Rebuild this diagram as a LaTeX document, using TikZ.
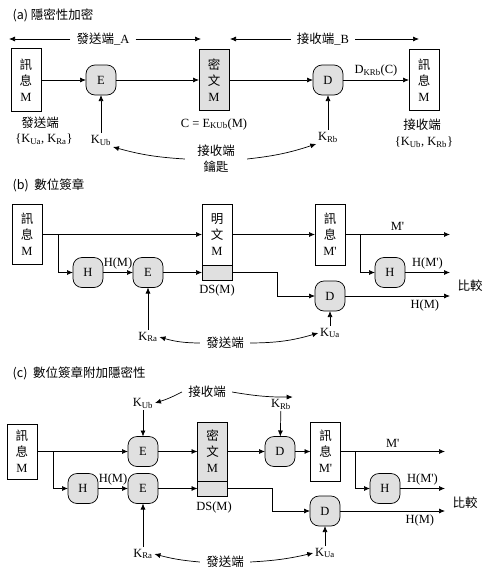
\documentclass[tikz,border=0pt]{standalone}
\usepackage{fontspec}
\setmainfont{Liberation Serif}
\newfontfamily\cjk{Noto Sans CJK TC}
\newcommand{\zh}[1]{{\cjk #1}}
\usetikzlibrary{arrows.meta}
\definecolor{boxgray}{gray}{0.88}

\begin{document}
\begin{tikzpicture}[x=1pt,y=-1pt,
		font=\fontsize{12.5}{16}\selectfont, line width=.7pt,
		>={Latex[length=6pt,width=5pt]},
		msg/.style={draw,outer sep=0,inner sep=0,minimum width=30,align=center},
		op/.style={draw,fill=boxgray,outer sep=0,inner sep=0,rounded corners=9,minimum size=30},
		lbl/.style={inner sep=1.5},
		side/.style={inner sep=6,align=center}]
		\useasboundingbox (0,0) rectangle (495,576);
		% (a)
		\node [anchor=west] (ta) at (9,15) {\zh{(a) 隱密性加密}};
		\node [side] (sa) at (103,39) {\zh{發送端}\_A};
		\node [side] (ra) at (323,39) {\zh{接收端}\_B};
		\coordinate (sa1) at (9,39); \coordinate (sa2) at (201,39);
		\coordinate (ra1) at (230,39); \coordinate (ra2) at (419,39);
		\draw[->] (sa) -- (sa1); \draw[->] (sa) -- (sa2);
		\draw[->] (ra) -- (ra1); \draw[->] (ra) -- (ra2);
		\node [msg,minimum height=63] (ma) at (26,80) {\zh{訊}\\\zh{息}\\M};
		\node [op] (ea) at (101,80) {E};
		\node [msg,fill=boxgray,minimum height=61] (ca) at (214,80) {\zh{密}\\\zh{文}\\M};
		\node [op] (da) at (328,80) {D};
		\node [msg,minimum height=61] (mb) at (424,80) {\zh{訊}\\\zh{息}\\M};
		\node [lbl] (sda) at (40,123) {\zh{發送端}};
		\node [lbl] (ksa) at (44,139) {\{K\textsubscript{Ua}, K\textsubscript{Ra}\}};
		\node [lbl] (kua) at (101,140) {K\textsubscript{Ub}};
		\node [lbl] (cla) at (214,124) {C = E\textsubscript{KUb}(M)};
		\node [side,inner sep=12] (rka) at (216,159) {\zh{接收端}\\\zh{鑰匙}};
		\node [lbl] (kra) at (328,137) {K\textsubscript{Rb}};
		\node [lbl] (rda) at (422,125) {\zh{接收端}};
		\node [lbl] (kka) at (424,142) {\{K\textsubscript{Ub}, K\textsubscript{Rb}\}};
		\draw[->] (ma) -- (ea);
		\draw[->] (ea) -- (ca);
		\draw[->] (ca) -- (da);
		\draw[->] (da) -- node[above] {D\textsubscript{KRb}(C)} (mb);
		\draw[->] (kua) -- (ea);
		\draw[->] (kra) -- (da);
		\draw[->] (rka.west) to[bend left=6] (kua.south east);
		\draw[->] (rka.east) to[bend right=6] (kra.south west);
		% (b)
		\node [anchor=west] (tb) at (9,185) {\zh{(b)\ \ 數位簽章}};
		\node [msg,minimum height=60] (mab) at (27,234.5) {\zh{訊}\\\zh{息}\\M};
		\node [op] (hb) at (88,272.5) {H};
		\node [op] (eb) at (148,272.5) {E};
		\node [msg,minimum height=61] (pb) at (217,234.5) {\zh{明}\\\zh{文}\\M};
		\node [msg,fill=boxgray,minimum height=15] (pbs) at (217,272.5) {};
		\node [lbl] (dsb) at (217,290) {DS(M)};
		\node [msg,minimum height=61] (mbb) at (330,234.5) {\zh{訊}\\\zh{息}\\M\textquotesingle};
		\node [op] (hb2) at (390,272.5) {H};
		\node [op] (db) at (330,296) {D};
		\coordinate (bb1) at (58,234.5); \coordinate (bb2) at (360,234.5);
		\coordinate (bb3) at (277,296);
		\coordinate (ob1) at (450,234.5); \coordinate (ob2) at (450,272.5);
		\coordinate (ob3) at (450,296);
		\node [lbl] (cpb) at (470,286) {\zh{比較}};
		\node [lbl] (krb) at (148,337) {K\textsubscript{Ra}};
		\node [lbl] (kub) at (330,333) {K\textsubscript{Ua}};
		\node [side] (sb) at (225,343) {\zh{發送端}};
		\draw[->] (mab) -- (pb);
		\draw[->] (bb1) |- (hb);
		\draw[->] (hb) -- node[above] {H(M)} (eb);
		\draw[->] (eb) -- (pbs);
		\draw[->] (krb) -- (eb);
		\draw[->] (pb) -- (mbb);
		\draw[->] (mbb) -- node[above] {M\textquotesingle} (ob1);
		\draw[->] (bb2) |- (hb2);
		\draw[->] (hb2) -- node[above] {H(M\textquotesingle)} (ob2);
		\draw[->] (pbs) -| (bb3) -- (db);
		\draw[->] (db) -- node[pos=.76,below] {H(M)} (ob3);
		\draw[->] (kub) -- (db);
		\draw[->] (sb.west) to[bend left=8] (krb.east);
		\draw[->] (sb.east) to[bend right=8] (kub.west);
		% (c)
		\node [anchor=west] (tc) at (9,373) {\zh{(c)\ \ 數位簽章附加隱密性}};
		\node [side] (rc) at (207,392) {\zh{接收端}};
		\node [lbl] (kubc) at (143,403) {K\textsubscript{Ub}};
		\node [lbl] (krbc) at (281,404) {K\textsubscript{Rb}};
		\node [msg,minimum height=55] (mac) at (22,451.5) {\zh{訊}\\\zh{息}\\M};
		\node [op] (ec1) at (143,451.5) {E};
		\node [op] (hc) at (83,488.5) {H};
		\node [op] (ec2) at (143,488.5) {E};
		\node [msg,fill=boxgray,minimum height=59] (cc) at (212.5,451.5) {\zh{密}\\\zh{文}\\M};
		\node [msg,fill=boxgray,minimum height=15] (ccs) at (212.5,488.5) {};
		\node [lbl] (dsc) at (214,507) {DS(M)};
		\node [op] (dc1) at (280,451.5) {D};
		\node [msg,minimum height=59] (mbc) at (325.5,451.5) {\zh{訊}\\\zh{息}\\M\textquotesingle};
		\node [op] (hc2) at (385,488.5) {H};
		\node [op] (dc2) at (325,511) {D};
		\coordinate (bc1) at (53,451.5); \coordinate (bc2) at (355,451.5);
		\coordinate (bc3) at (272,511);
		\coordinate (oc1) at (445,451.5); \coordinate (oc2) at (445,488.5);
		\coordinate (oc3) at (445,511);
		\node [lbl] (cpc) at (465,503) {\zh{比較}};
		\node [lbl] (krc) at (143,554) {K\textsubscript{Ra}};
		\node [lbl] (kuc) at (325,553) {K\textsubscript{Ua}};
		\node [side] (sc) at (225,562) {\zh{發送端}};
		\draw[->] (mac) -- (ec1);
		\draw[->] (bc1) |- (hc);
		\draw[->] (hc) -- node[above] {H(M)} (ec2);
		\draw[->] (ec1) -- (cc);
		\draw[->] (ec2) -- (ccs);
		\draw[->] (kubc) -- (ec1);
		\draw[->] (krc) -- (ec2);
		\draw[->] (cc) -- (dc1);
		\draw[->] (dc1) -- (mbc);
		\draw[->] (krbc) -- (dc1);
		\draw[->] (mbc) -- node[above] {M\textquotesingle} (oc1);
		\draw[->] (bc2) |- (hc2);
		\draw[->] (hc2) -- node[above] {H(M\textquotesingle)} (oc2);
		\draw[->] (ccs) -| (bc3) -- (dc2);
		\draw[->] (dc2) -- node[pos=.76,below] {H(M)} (oc3);
		\draw[->] (kuc) -- (dc2);
		\draw[->] (rc.west) to[bend left=5] (kubc.east);
		\draw[->] (rc.east) to[bend right=5] (krbc.north east);
		\draw[->] (sc.west) to[bend left=5] (krc.east);
		\draw[->] (sc.east) to[bend right=5] (kuc.west);
\end{tikzpicture}
\end{document}
